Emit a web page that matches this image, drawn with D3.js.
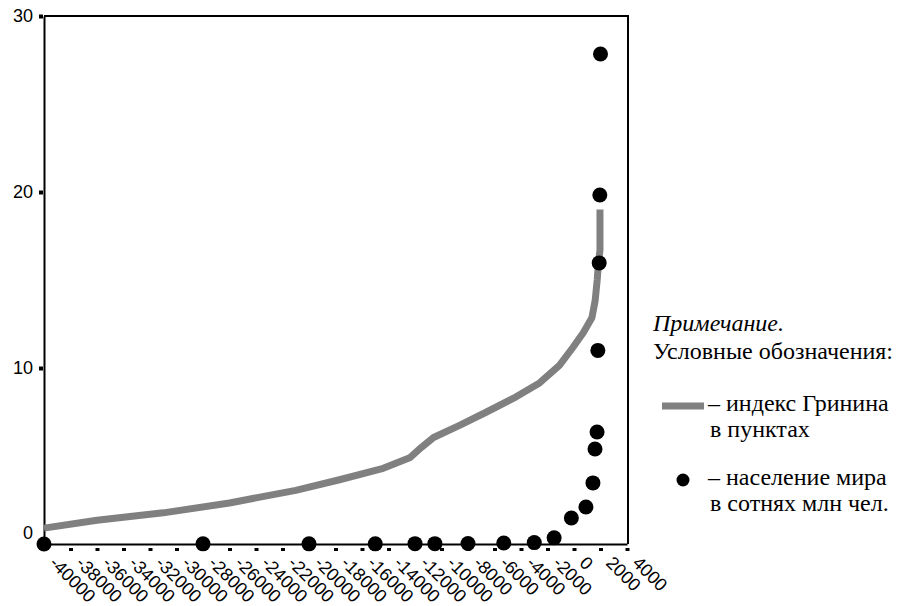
<!DOCTYPE html>
<html>
<head>
<meta charset="utf-8">
<script src="https://cdn.jsdelivr.net/npm/d3@7/dist/d3.min.js"></script>
<style>
  body { margin: 0; background: #fff; }
  .note text { font-family: "Liberation Serif", "Times New Roman", serif; font-size: 24px; }
  .axis text { font-family: "Liberation Sans", Arial, sans-serif; }
</style>
</head>
<body>
<div id="chart"></div>
<script>
// индекс Гринина, в пунктах (линия)
var indexYears = [-40000, -36000, -31000, -26000, -21000, -17700, -14400, -12400, -11500, -10600,
    -8600, -6600, -4400, -2600, -1100, -100, 700, 1350, 1600, 1750, 1850, 1960, 1960];
var indexValues = [0.9, 1.35, 1.77, 2.33, 3.05, 3.65, 4.3, 4.9, 5.5, 6.05,
    6.75, 7.5, 8.35, 9.15, 10.15, 11.15, 12.0, 12.85, 13.85, 15.0, 16.0, 16.7, 19.0];

// население мира, в сотнях млн чел. (точки)
var popYears = [-40000, -28000, -20000, -15000, -12000, -10500, -8000, -5300, -3000, -1500,
    -200, 900, 1430, 1585, 1740, 1800, 1900, 1950, 2000];
var popValues = [0.0, 0.01, 0.01, 0.01, 0.02, 0.02, 0.03, 0.06, 0.08, 0.35,
    1.48, 2.1, 3.47, 5.4, 6.36, 11.0, 15.97, 19.83, 27.84];

var xTicks = [-40000, -38000, -36000, -34000, -32000, -30000, -28000, -26000, -24000, -22000, -20000,
    -18000, -16000, -14000, -12000, -10000, -8000, -6000, -4000, -2000, 0, 2000, 4000];
var yTicks = [0, 10, 20, 30];

var noteLines = ['Примечание.', 'Условные обозначения:'];
var lineLegend = ['– индекс Гринина', 'в пунктах'];
var dotLegend = ['– население мира', 'в сотнях млн чел.'];

var width = 899, height = 606;

var svg = d3.select('#chart')
    .append('svg')
    .attr('width', width)
    .attr('height', height);

var x = d3.scaleLinear().domain([-40000, 4000]).range([44, 627]);
var y = d3.scaleLinear().domain([0, 30]).range([544, 16]);

// рамка сверху и справа
svg.append('path')
    .attr('d', 'M' + x(-40000) + ',' + y(30) + 'H' + (x(4000) + 1) + 'V' + y(0))
    .attr('fill', 'none')
    .attr('stroke', '#000')
    .attr('stroke-width', 2);

// ось X
var gx = svg.append('g')
    .attr('class', 'axis')
    .attr('transform', 'translate(0,' + y(0) + ')')
    .call(d3.axisBottom(x).tickValues(xTicks).tickSizeOuter(0)
        .tickFormat(function(d) { return String(d); }));
gx.select('.domain').attr('stroke-width', 2);
gx.selectAll('.tick line')
    .attr('y1', 4).attr('y2', 7)
    .attr('stroke-width', 4);
gx.selectAll('.tick text')
    .attr('x', 0).attr('y', 0).attr('dy', 0)
    .attr('transform', 'translate(4,20) rotate(45)')
    .style('text-anchor', 'start')
    .style('font-size', '18px')
    .attr('fill', '#000');

// ось Y
var gy = svg.append('g')
    .attr('class', 'axis')
    .attr('transform', 'translate(' + x(-40000) + ',0)')
    .call(d3.axisLeft(y).tickValues(yTicks).tickSizeOuter(0));
gy.select('.domain').attr('stroke-width', 2);
gy.selectAll('.tick line')
    .attr('x1', -1).attr('x2', -5)
    .attr('stroke-width', 4);
gy.selectAll('.tick text')
    .attr('x', -11)
    .attr('transform', function(d) { return d === 0 ? 'translate(0,-11)' : null; })
    .style('font-size', '18px')
    .attr('fill', '#000');

// линия индекса
var line = d3.line()
    .x(function(d) { return x(d[0]); })
    .y(function(d) { return y(d[1]); });

svg.append('path')
    .datum(d3.zip(indexYears, indexValues))
    .attr('d', line)
    .attr('fill', 'none')
    .attr('stroke', '#808080')
    .attr('stroke-width', 7)
    .attr('stroke-linejoin', 'round');

// точки населения
svg.selectAll('.pop').data(d3.zip(popYears, popValues)).enter().append('circle')
    .attr('class', 'pop')
    .attr('cx', function(d) { return x(d[0]); })
    .attr('cy', function(d) { return y(d[1]); })
    .attr('r', 7.5)
    .attr('fill', '#000');

// примечание и легенда
var legend = svg.append('g')
    .attr('class', 'note')
    .attr('fill', '#000');

legend.append('text').attr('x', 653).attr('y', 331)
    .style('font-style', 'italic').text(noteLines[0]);
legend.append('text').attr('x', 653).attr('y', 359).text(noteLines[1]);

legend.append('line')
    .attr('x1', 662).attr('x2', 704)
    .attr('y1', 406).attr('y2', 406)
    .attr('stroke', '#808080')
    .attr('stroke-width', 7);
legend.append('text').attr('x', 708).attr('y', 411).text(lineLegend[0]);
legend.append('text').attr('x', 710).attr('y', 437).text(lineLegend[1]);

legend.append('circle')
    .attr('cx', 683).attr('cy', 480).attr('r', 6.5)
    .attr('fill', '#000');
legend.append('text').attr('x', 708).attr('y', 485).text(dotLegend[0]);
legend.append('text').attr('x', 710).attr('y', 511).text(dotLegend[1]);
</script>
</body>
</html>
